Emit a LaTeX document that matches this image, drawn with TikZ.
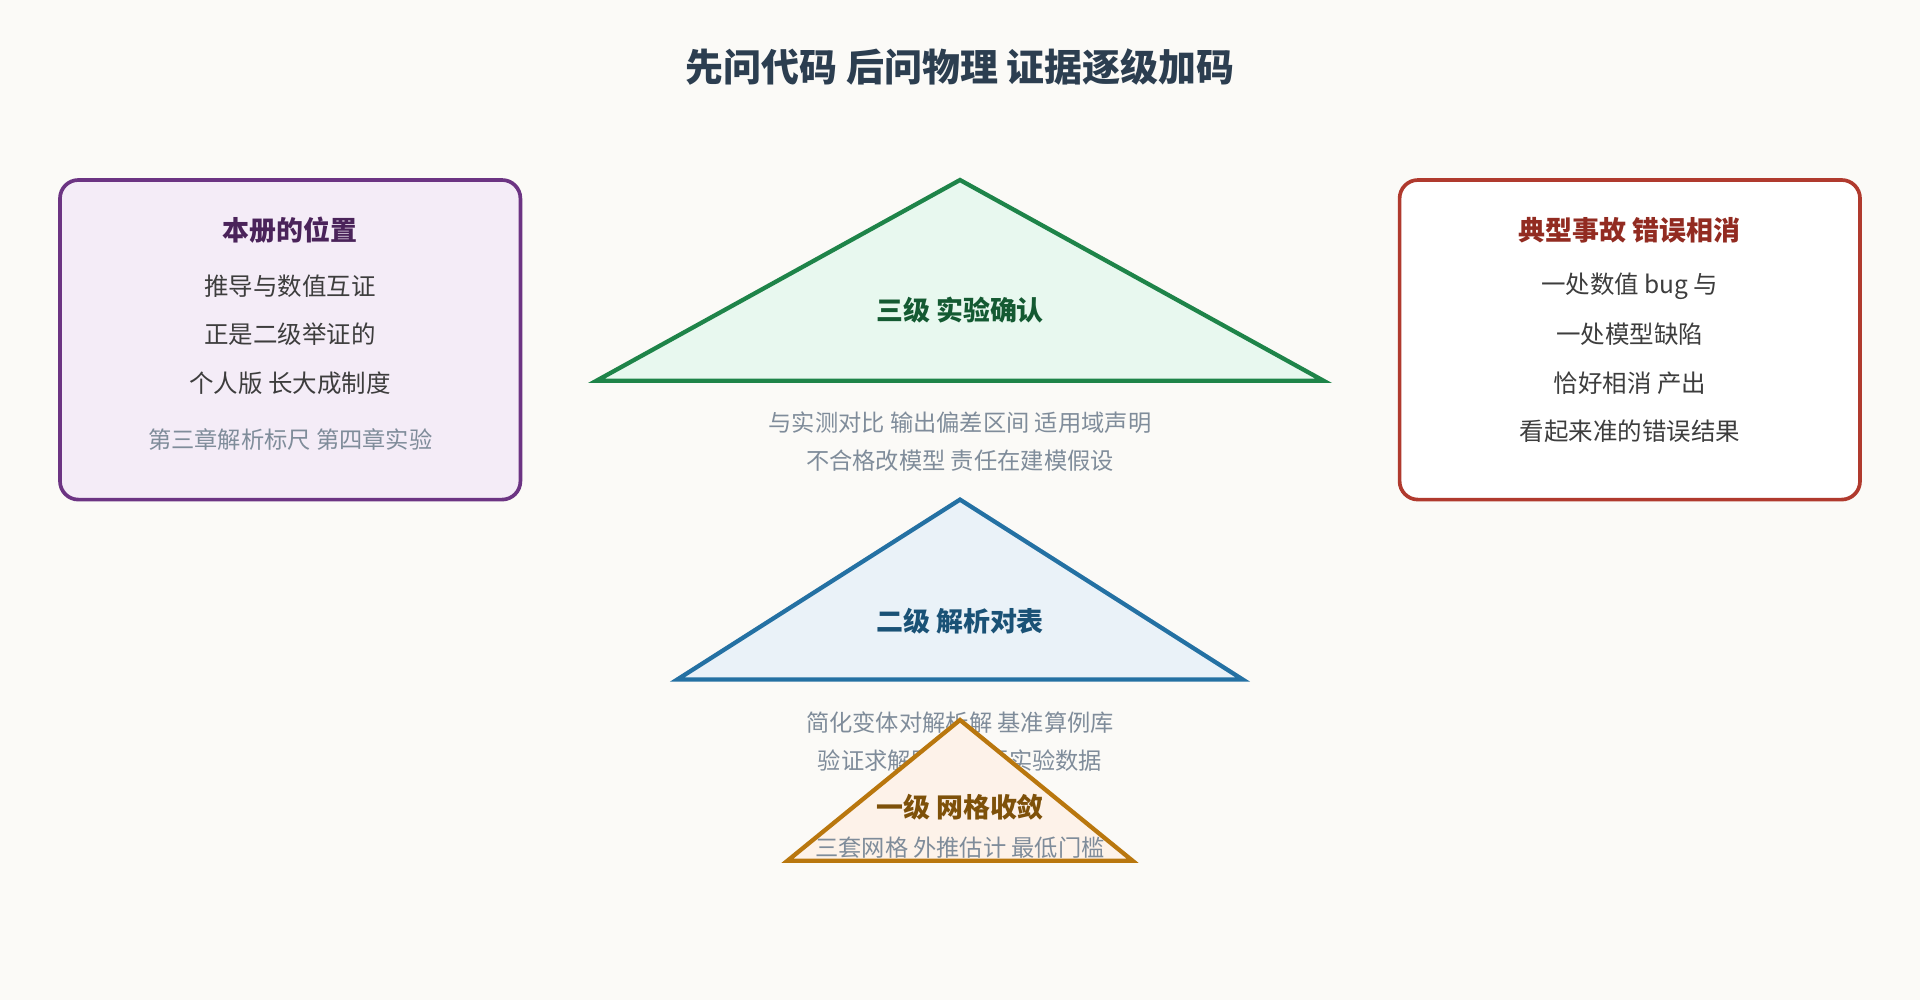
\documentclass[tikz,border=0pt]{standalone}
\usepackage{fontspec}
\setmainfont{Noto Sans CJK SC}
\usetikzlibrary{positioning}
\definecolor{bg}{HTML}{FBFAF7}
\definecolor{ink}{HTML}{2C3E50}
\definecolor{txt}{HTML}{3D3D3D}
\definecolor{note}{HTML}{7F8C9A}
\definecolor{purp}{HTML}{6C3483}
\definecolor{purpfill}{HTML}{F4ECF7}
\definecolor{purpink}{HTML}{4A235A}
\definecolor{redb}{HTML}{B03A2E}
\definecolor{redink}{HTML}{922B21}
\definecolor{grn}{HTML}{1E8449}
\definecolor{grnfill}{HTML}{E8F8EF}
\definecolor{grnink}{HTML}{145A32}
\definecolor{blu}{HTML}{2471A3}
\definecolor{blufill}{HTML}{EAF2F8}
\definecolor{bluink}{HTML}{1A5276}
\definecolor{orn}{HTML}{B9770E}
\definecolor{ornfill}{HTML}{FDF2E9}
\definecolor{ornink}{HTML}{7E5109}
\begin{document}
\begin{tikzpicture}[x=1pt,y=-1pt,
      box/.style={draw,line width=3pt,rounded corners=15pt},
      tri/.style={line width=3.5pt,line join=miter},
      head/.style={font=\fontsize{22}{26}\selectfont\bfseries},
      body/.style={font=\fontsize{20}{24}\selectfont,text=txt},
      small/.style={font=\fontsize{19}{23}\selectfont,text=note}]
  \fill[bg] (0,0) rectangle (1568,817);
  \useasboundingbox (0,0) rectangle (1568,817);

  \node[font=\fontsize{31}{36}\selectfont\bfseries,text=ink] (title) at (784,55) {先问代码 后问物理 证据逐级加码};

  % left box
  \draw[box,draw=purp,fill=purpfill] (49,147) rectangle (425,408);
  \node[head,text=purpink] (lhead) at (237,188) {本册的位置};
  \node[body] (l1) at (237,234) {推导与数值互证};
  \node[body] (l2) at (237,273) {正是二级举证的};
  \node[body] (l3) at (237,313) {个人版 长大成制度};
  \node[small] (l4) at (237,359) {第三章解析标尺 第四章实验};

  % right box
  \draw[box,draw=redb,fill=white] (1143,147) rectangle (1519,408);
  \node[head,text=redink] (rhead) at (1331,188) {典型事故 错误相消};
  \node[body] (r1) at (1331,234) {一处数值 bug 与};
  \node[body] (r2) at (1331,273) {一处模型缺陷};
  \node[body] (r3) at (1331,313) {恰好相消 产出};
  \node[body] (r4) at (1331,352) {看起来准的错误结果};

  % level 3
  \draw[tri,draw=grn,fill=grnfill] (784,147) -- (1081,311) -- (487,311) -- cycle;
  \node[head,text=grnink] (t3) at (784,253) {三级 实验确认};
  \node[small] (c3a) at (784,345) {与实测对比 输出偏差区间 适用域声明};
  \node[small] (c3b) at (784,376) {不合格改模型 责任在建模假设};

  % level 2
  \draw[tri,draw=blu,fill=blufill] (784,408) -- (1015,555) -- (553,555) -- cycle;
  \node[head,text=bluink] (t2) at (784,507) {二级 解析对表};
  \node[small] (c2a) at (784,590) {简化变体对解析解 基准算例库};
  \node[small] (c2b) at (784,621) {验证求解器 不需要实验数据};

  % level 1
  \draw[tri,draw=orn,fill=ornfill] (784,588) -- (925,703) -- (643,703) -- cycle;
  \node[head,text=ornink] (t1) at (784,659) {一级 网格收敛};
  \node[small] (c1) at (784,692) {三套网格 外推估计 最低门槛};
\end{tikzpicture}
\end{document}
